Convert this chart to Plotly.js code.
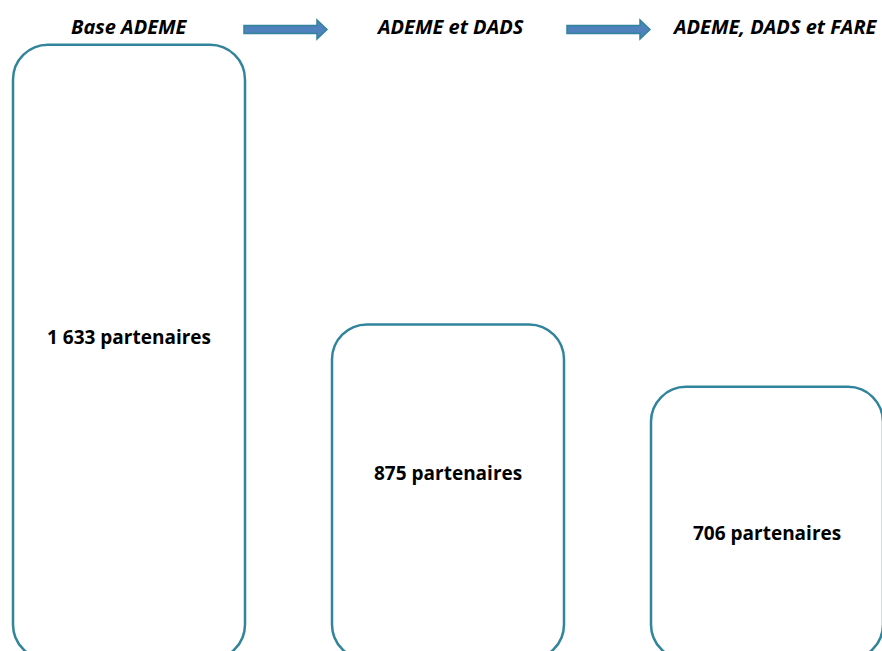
<!DOCTYPE html>
<html>
<head>
<meta charset="utf-8">
<script src="https://cdn.plot.ly/plotly-3.0.1.min.js"></script>
<style>
  html, body { margin: 0; padding: 0; background: #ffffff; }
  #chart { width: 882px; height: 651px; }
</style>
</head>
<body>
<div id="chart"></div>
<script>
// ---- Data ----
const categories = ['Base ADEME', 'ADEME et DADS', 'ADEME, DADS et FARE'];
const partners = [1633, 875, 706];
const unitLabel = 'partenaires';

// ---- Styling / layout constants ----
const W = 882, H = 651;
const xRange = [-0.4044, 2.3605];
const yRange = [-9.5, 1754];
const barWidthPx = 232;
const cornerPx = 35;
const bottomBelowPx = 12;          // rounded bottom runs just past the frame
const labelYpx = [337, 473, 533];  // vertical placement of in-box labels
const headerXpx = [129, 450, 775];
const headerYpx = 26;
const strokeColor = '#31849B';
const arrowFill = '#4F81BD';
const fontFam = '"Open Sans", Lato, sans-serif';

const pxPerX = W / (xRange[1] - xRange[0]);
const pxPerY = H / (yRange[1] - yRange[0]);

function fmt(n) {
  return String(n).replace(/\B(?=(\d{3})+(?!\d))/g, ' ');
}
function f(v) { return v.toFixed(5); }

function roundedRectPath(xc, top, bottom) {
  const hw = (barWidthPx / 2) / pxPerX;
  const rx = cornerPx / pxPerX, ry = cornerPx / pxPerY;
  const k = 0.5523;
  const L = xc - hw, R = xc + hw;
  return [
    'M', f(L), f(top - ry),
    'C', f(L), f(top - ry + k * ry), f(L + rx - k * rx), f(top), f(L + rx), f(top),
    'L', f(R - rx), f(top),
    'C', f(R - rx + k * rx), f(top), f(R), f(top - ry + k * ry), f(R), f(top - ry),
    'L', f(R), f(bottom + ry),
    'C', f(R), f(bottom + ry - k * ry), f(R - rx + k * rx), f(bottom), f(R - rx), f(bottom),
    'L', f(L + rx), f(bottom),
    'C', f(L + rx - k * rx), f(bottom), f(L), f(bottom + ry - k * ry), f(L), f(bottom + ry),
    'Z'
  ].join(' ');
}

function px2paperX(x) { return x / W; }
function px2paperY(y) { return 1 - y / H; }

function arrowPath(x0, x1) {
  // x0: tail, x1: tip (pixels)
  const base = x1 - 10, cy = 29.5;
  const pts = [
    [x0, cy - 4], [base, cy - 4], [base, cy - 9.5], [x1, cy],
    [base, cy + 9.5], [base, cy + 4], [x0, cy + 4]
  ];
  return 'M ' + pts.map(p => f(px2paperX(p[0])) + ',' + f(px2paperY(p[1]))).join(' L ') + ' Z';
}

const xIdx = categories.map((c, i) => i);
const bottomVal = 0 - bottomBelowPx / pxPerY;

const shapes = xIdx.map((x, i) => ({
  type: 'path', xref: 'x', yref: 'y',
  path: roundedRectPath(x, partners[i], bottomVal),
  line: { color: strokeColor, width: 2.5 },
  fillcolor: 'rgba(0,0,0,0)'
}));

[[244, 327], [567, 650]].forEach(a => {
  shapes.push({
    type: 'path', xref: 'paper', yref: 'paper',
    path: arrowPath(a[0], a[1]),
    line: { color: strokeColor, width: 1.5 },
    fillcolor: arrowFill
  });
});

const annotations = [];
xIdx.forEach((x, i) => {
  annotations.push({
    x: x, xref: 'x', y: px2paperY(labelYpx[i]), yref: 'paper',
    text: '<b>' + fmt(partners[i]) + ' ' + unitLabel + '</b>',
    showarrow: false, xanchor: 'center', yanchor: 'middle',
    font: { family: fontFam, size: 19, color: '#000000' }
  });
  annotations.push({
    x: px2paperX(headerXpx[i]), xref: 'paper', y: px2paperY(headerYpx), yref: 'paper',
    text: '<b><i>' + categories[i] + '</i></b>',
    showarrow: false, xanchor: 'center', yanchor: 'middle',
    font: { family: fontFam, size: 20, color: '#000000' }
  });
});

const trace = {
  type: 'bar', x: xIdx, y: partners,
  marker: { color: 'rgba(0,0,0,0)' },
  hoverinfo: 'skip', showlegend: false
};

const layout = {
  width: W, height: H,
  margin: { l: 0, r: 0, t: 0, b: 0, pad: 0 },
  paper_bgcolor: '#ffffff', plot_bgcolor: '#ffffff',
  xaxis: { range: xRange, visible: false, fixedrange: true },
  yaxis: { range: yRange, visible: false, fixedrange: true },
  shapes: shapes,
  annotations: annotations,
  showlegend: false
};

Plotly.newPlot('chart', [trace], layout, { staticPlot: true, displayModeBar: false });
</script>
</body>
</html>
